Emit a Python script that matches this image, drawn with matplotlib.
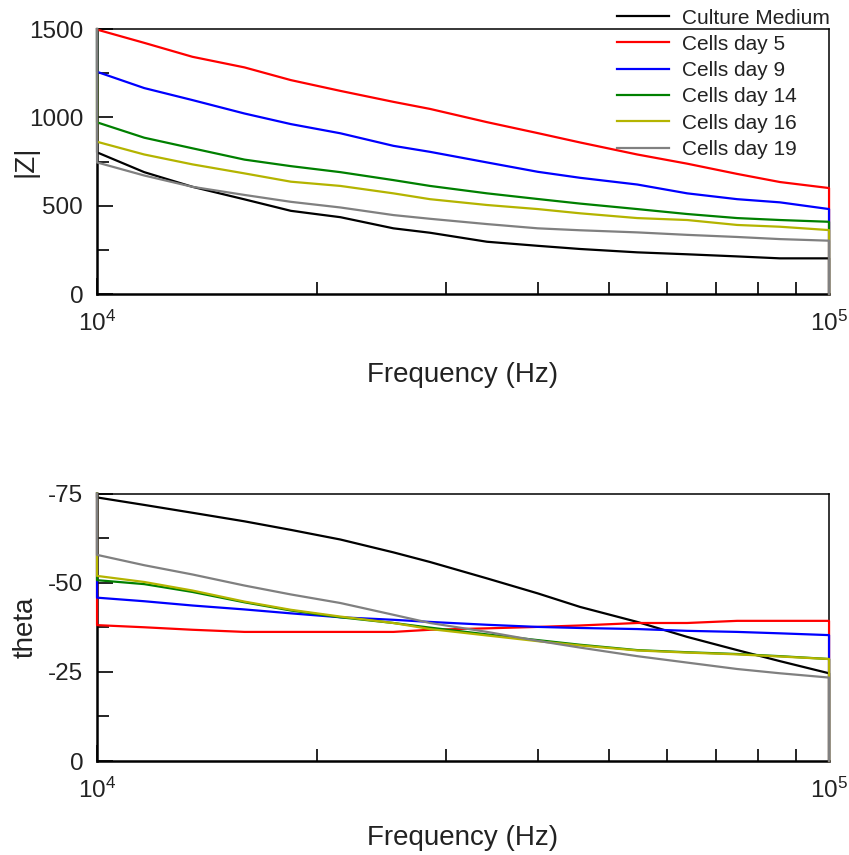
import numpy as np
import matplotlib
matplotlib.use("Agg")
import matplotlib.pyplot as plt
from matplotlib.ticker import FixedLocator, FixedFormatter, NullFormatter

plt.rcParams['font.family'] = ['Liberation Sans', 'DejaVu Sans']
plt.rcParams['mathtext.fontset'] = 'custom'
plt.rcParams['mathtext.rm'] = 'Liberation Sans'

# frequencies (Hz)
freq = [10000, 11600, 13500, 15900, 18400, 21500, 25400, 28500,
        34100, 40000, 45700, 54700, 64000, 74900, 85700, 100000]

labels = ["Culture Medium", "Cells day 5", "Cells day 9",
          "Cells day 14", "Cells day 16", "Cells day 19"]
colors = ["black", "#ff0000", "#0000ff", "#008000", "#b4b400", "#808080"]

# |Z| values
z_medium = [802, 690, 607, 536, 471, 435, 372, 347, 296, 273, 255, 236, 225, 213, 202, 202]
z_day5 = [1497, 1422, 1343, 1283, 1211, 1150, 1088, 1048, 973, 911, 858, 790, 738, 680, 634, 600]
z_day9 = [1258, 1166, 1098, 1022, 962, 910, 839, 805, 745, 692, 658, 620, 570, 537, 519, 481]
z_day14 = [972, 885, 825, 761, 724, 690, 645, 612, 570, 538, 512, 481, 453, 430, 419, 409]
z_day16 = [862, 790, 734, 683, 636, 612, 570, 537, 504, 481, 457, 430, 419, 391, 381, 362]
z_day19 = [745, 671, 607, 561, 522, 490, 447, 426, 396, 372, 361, 349, 335, 323, 311, 302]

# phase angle values
th_medium = [-73.9, -71.8, -69.6, -67.2, -64.8, -62.1, -58.5, -55.8,
             -51.2, -47.0, -43.2, -39.0, -34.8, -31.1, -28.0, -24.6]
th_day5 = [-38.1, -37.5, -36.8, -36.2, -36.2, -36.2, -36.2, -36.8,
           -37.2, -37.6, -38.0, -38.7, -38.7, -39.3, -39.3, -39.3]
th_day9 = [-45.8, -44.8, -43.6, -42.5, -41.4, -40.3, -39.6, -39.0,
           -38.2, -37.6, -37.3, -37.0, -36.5, -36.2, -35.8, -35.3]
th_day14 = [-50.7, -49.6, -47.4, -44.5, -42.2, -40.3, -38.7, -37.4,
            -35.5, -33.9, -32.6, -31.1, -30.5, -30.0, -29.4, -28.6]
th_day16 = [-51.9, -50.2, -47.8, -44.7, -42.4, -40.5, -38.7, -37.0,
            -35.2, -33.6, -32.4, -31.0, -30.4, -29.9, -29.3, -28.6]
th_day19 = [-57.8, -54.9, -52.3, -49.2, -46.7, -44.3, -41.0, -38.7,
            -36.2, -33.7, -31.8, -29.4, -27.6, -25.8, -24.6, -23.4]

z_series = [z_medium, z_day5, z_day9, z_day14, z_day16, z_day19]
th_series = [th_medium, th_day5, th_day9, th_day14, th_day16, th_day19]

fig = plt.figure(figsize=(8.49, 8.55), dpi=100)
ax1 = fig.add_axes([0.1143, 0.6561, 0.8622, 0.3099])
ax2 = fig.add_axes([0.1143, 0.1099, 0.8622, 0.3129])


def style_axis(ax, ylim, majors, minors, ylabels, ylabel):
    ax.set_xscale('log')
    ax.set_xlim(1e4, 1e5)
    ax.set_ylim(*ylim)
    ax.xaxis.set_major_locator(FixedLocator([1e4, 1e5]))
    ax.xaxis.set_major_formatter(FixedFormatter([r'$\mathregular{10^{4}}$',
                                                 r'$\mathregular{10^{5}}$']))
    ax.xaxis.set_minor_locator(FixedLocator([k * 1e4 for k in range(2, 10)]))
    ax.xaxis.set_minor_formatter(NullFormatter())
    ax.yaxis.set_major_locator(FixedLocator(majors))
    ax.yaxis.set_major_formatter(FixedFormatter(ylabels))
    ax.yaxis.set_minor_locator(FixedLocator(minors))
    ax.tick_params(which='both', direction='in', top=False, right=False,
                   width=1.2, color='black', labelsize=17.5, labelcolor='#222222')
    ax.tick_params(which='major', length=11.5)
    ax.tick_params(which='minor', length=8.5)
    ax.tick_params(axis='y', pad=10)
    ax.tick_params(axis='x', pad=12)
    for side in ['left', 'bottom']:
        ax.spines[side].set_linewidth(1.8)
    for side in ['top', 'right']:
        ax.spines[side].set_linewidth(1.1)
    ax.set_xlabel('Frequency (Hz)', fontsize=20, color='#222222')
    ax.set_ylabel(ylabel, fontsize=20, color='#222222')
    ax.yaxis.set_label_coords(-0.08, 0.5)


# top panel: |Z|
for vals, c, lab in zip(z_series, colors, labels):
    top = 1500
    ax1.plot([freq[0]] + freq + [freq[-1]], [top] + vals + [0],
             color=c, lw=1.6, label=lab, clip_on=False, zorder=3)
style_axis(ax1, (0, 1500), [0, 500, 1000, 1500], [250, 750, 1250],
           ['0', '500', '1000', '1500'], '|Z|')
ax1.xaxis.set_label_coords(0.5, -0.255)

leg = ax1.legend(loc='upper left', bbox_to_anchor=(617 / 849, 1 - 8.5 / 855),
                 bbox_transform=fig.transFigure, frameon=False, fontsize=15,
                 borderpad=0, borderaxespad=0, handlelength=2.5,
                 handletextpad=0.6, labelspacing=0.35)
for t in leg.get_texts():
    t.set_color('#222222')

# bottom panel: theta (axis runs from 0 at bottom to -75 at top)
for vals, c, lab in zip(th_series, colors, labels):
    top = -75
    ax2.plot([freq[0]] + freq + [freq[-1]], [top] + vals + [0],
             color=c, lw=1.6, label=lab, clip_on=False, zorder=3)
style_axis(ax2, (0, -75), [0, -25, -50, -75], [-12.5, -37.5, -62.5],
           ['0', '-25', '-50', '-75'], 'theta')
ax2.xaxis.set_label_coords(0.5, -0.24)

fig.savefig('out.png', dpi=100)
